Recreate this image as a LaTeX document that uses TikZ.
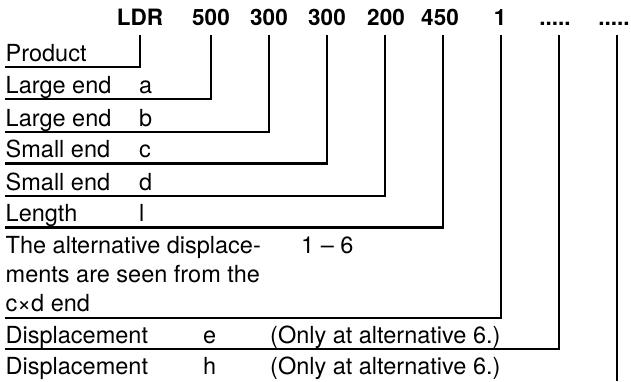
\documentclass[tikz,border=0pt]{standalone}
\usepackage{fontspec}
\setmainfont{TeX Gyre Heros}
\begin{document}
\begin{tikzpicture}[x=1pt,y=-1pt,
  hd/.style={anchor=base,inner sep=0pt,font=\fontsize{22.5}{26}\selectfont\bfseries},
  bd/.style={anchor=base west,inner sep=0pt,font=\fontsize{23.5}{29}\selectfont},
  conn/.style={line width=2.3pt,line join=miter}]
\useasboundingbox (0,0) rectangle (631,381);
% header
\node[hd] (h0) at (140,25.5) {LDR};
\node[hd] (h1) at (211,25.5) {500};
\node[hd] (h2) at (269,25.5) {300};
\node[hd] (h3) at (327,25.5) {300};
\node[hd] (h4) at (386,25.5) {200};
\node[hd] (h5) at (440,25.5) {450};
\node[hd] (h6) at (500,25.5) {1};
\node[hd] (h7) at (555,25.5) {.....};
\node[hd] (h8) at (614,25.5) {.....};
% body
\node[bd] (t1) at (5.5,61) {Product};
\node[bd] (t2) at (5.5,93) {Large end};
\node[bd] (t2b) at (139,93) {a};
\node[bd] (t3) at (5.5,126) {Large end};
\node[bd] (t3b) at (139,126) {b};
\node[bd] (t4) at (5.5,157.5) {Small end};
\node[bd] (t4b) at (139,157.5) {c};
\node[bd] (t5) at (5.5,190) {Small end};
\node[bd] (t5b) at (139,190) {d};
\node[bd] (t6) at (5.5,221.5) {Length};
\node[bd] (t6b) at (139,221.5) {l};
\node[bd] (t7) at (5.5,253) {The alternative displace-};
\node[bd] (t7l2) at (5.5,282) {ments are seen from the};
\node[bd] (t7l3) at (5.5,311) {c×d end};
\node[bd] (t7b) at (301,253) {1 – 6};
\node[bd] (t8) at (5.5,343) {Displacement};
\node[bd] (t8b) at (203,343) {e};
\node[bd] (t8c) at (270,343) {(Only at alternative 6.)};
\node[bd] (t9) at (5.5,374.5) {Displacement};
\node[bd] (t9b) at (203,374.5) {h};
\node[bd] (t9c) at (270,374.5) {(Only at alternative 6.)};
% connector coordinates
\coordinate (v0) at (140,35);   \coordinate (e0) at (5,67);
\coordinate (v1) at (211,35);   \coordinate (e1) at (5,99);
\coordinate (v2) at (269,35);   \coordinate (e2) at (5,132);
\coordinate (v3) at (327,35);   \coordinate (e3) at (5,163.5);
\coordinate (v4) at (385,35);   \coordinate (e4) at (5,196);
\coordinate (v5) at (443,35);   \coordinate (e5) at (5,227.5);
\coordinate (v6) at (501,35);   \coordinate (e6) at (5,318);
\coordinate (v7) at (559,35);   \coordinate (e7) at (5,349);
\coordinate (v8) at (617,35);   \coordinate (e8) at (617,381);
\draw[conn] (v0) |- (e0);
\draw[conn] (v1) |- (e1);
\draw[conn] (v2) |- (e2);
\draw[conn] (v3) |- (e3);
\draw[conn] (v4) |- (e4);
\draw[conn] (v5) |- (e5);
\draw[conn] (v6) |- (e6);
\draw[conn] (v7) |- (e7);
\draw[conn] (v8) -- (e8);
\end{tikzpicture}
\end{document}
